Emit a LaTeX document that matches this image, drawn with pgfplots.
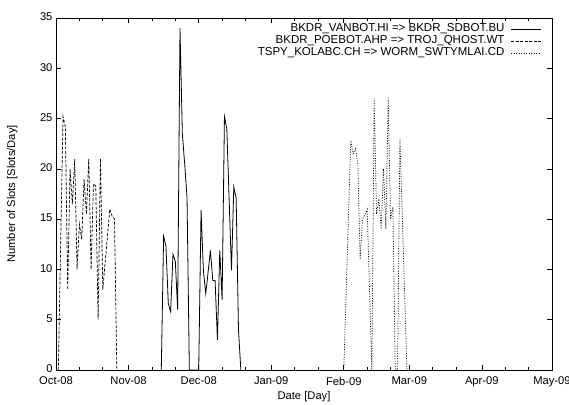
\documentclass[border=0pt]{standalone}
\usepackage{fontspec}
\setmainfont{Liberation Sans}
\usepackage{pgfplots}
\pgfplotsset{compat=1.18}

% day 0 = 1 Oct 2008
\pgfplotstableread{
day val
45 0
46 13.3
47 12.3
48 6.6
49 5.8
50 11.5
51 10.8
52 6
53 34
54 23.5
55 20.5
56 17.2
57 0
61 0
62 15.9
63 9.9
64 7.6
65 9.7
66 11.9
67 8.9
68 8.9
69 3
70 11.9
71 7
72 25.2
73 24
74 17
75 9.9
76 18.2
77 17.1
78 4
79 0
}\vanbot

\pgfplotstableread{
day val
1 0
3 25.2
4 24.2
5 8
6 20
7 16.5
8 21
9 10
10 14.5
11 13
12 19
13 15.5
14 21
15 10
16 18.5
17 18.3
18 5
19 21
20 8
21 10.7
22 13.3
23 16
24 15.3
25 15
26 0
}\poebot

\pgfplotstableread{
day val
123 0
126 22.8
127 21.5
128 22
129 20.5
130 11
131 15
132 15.4
133 16
134 8
135 0
136 27
137 15.5
138 17
139 14
140 20
141 14
142 27
143 15
144 16.2
145 0
146 0
147 23
150 0
}\kolabc

\begin{document}
\begin{tikzpicture}
\begin{axis}[
  scale only axis,
  width=496bp, height=352bp,
  xmin=0, xmax=212, ymin=0, ymax=35,
  xtick={0,31,61,92,123,151,182,212},
  xticklabels={Oct-08,Nov-08,Dec-08,Jan-09,Feb-09,Mar-09,Apr-09,May-09},
  minor xtick={10,20,41,51,71,81,102,112,133,143,161,171,192,202},
  ytick={0,5,...,35},
  tick align=inside,
  major tick length=5bp, minor tick length=3bp,
  tick style={black, line width=0.6bp},
  axis line style={line width=0.8bp},
  /pgf/number format/assume math mode=true,
  tick label style={font=\fontsize{11.2bp}{13bp}\selectfont},
  xticklabel style={yshift=-3.5bp},
  yticklabel style={yshift=1bp},
  xlabel={Date [Day]},
  ylabel={Number of Slots [Slots/Day]},
  every axis x label/.style={at={(axis description cs:0.5,-0.077)}, anchor=center,
    font=\fontsize{11.2bp}{13bp}\selectfont},
  every axis y label/.style={at={(axis description cs:-0.088,0.5)}, rotate=90, anchor=center,
    font=\fontsize{11.2bp}{13bp}\selectfont},
  legend style={draw=none, fill=none, at={(1,1)}, anchor=north east,
    xshift=-10bp, yshift=-5bp, inner sep=0pt,
    font=\fontsize{11.5bp}{12bp}\selectfont, row sep=0pt,
    nodes={inner sep=0.5bp, text height=8bp, text depth=3bp}},
  legend cell align=right,
  legend plot pos=right,
  legend image code/.code={\path (0bp,0bp); \draw[#1] (6bp,0bp) -- (36bp,0bp);},
]
\addplot[black, line width=0.8bp] table[x=day, y=val] {\vanbot};
\addlegendentry{BKDR\_VANBOT.HI => BKDR\_SDBOT.BU}
\addplot[black, line width=0.7bp, dash pattern=on 3bp off 1.5bp] table[x=day, y=val] {\poebot};
\addlegendentry{BKDR\_POEBOT.AHP => TROJ\_QHOST.WT}
\addplot[black, line width=0.7bp, dash pattern=on 1bp off 1.5bp] table[x=day, y=val] {\kolabc};
\addlegendentry{TSPY\_KOLABC.CH => WORM\_SWTYMLAI.CD}
\end{axis}
\pgfresetboundingbox
\path[use as bounding box] (-56bp,-35bp) rectangle (513bp,370bp);
\end{tikzpicture}
\end{document}
